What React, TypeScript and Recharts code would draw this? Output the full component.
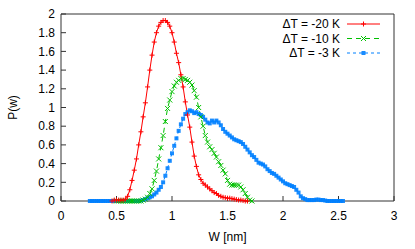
import React from "react";
import { LineChart, Line, XAxis, YAxis, Label } from "recharts";

// bin centres W [nm], shared by all three histograms
const W = [
  0.26, 0.28, 0.30, 0.32, 0.34, 0.36, 0.38, 0.40, 0.42, 0.44,
  0.46, 0.48, 0.50, 0.52, 0.54, 0.56, 0.58, 0.60, 0.62, 0.64,
  0.66, 0.68, 0.70, 0.72, 0.74, 0.76, 0.78, 0.80, 0.82, 0.84,
  0.86, 0.88, 0.90, 0.92, 0.94, 0.96, 0.98, 1.00, 1.02, 1.04,
  1.06, 1.08, 1.10, 1.12, 1.14, 1.16, 1.18, 1.20, 1.22, 1.24,
  1.26, 1.28, 1.30, 1.32, 1.34, 1.36, 1.38, 1.40, 1.42, 1.44,
  1.46, 1.48, 1.50, 1.52, 1.54, 1.56, 1.58, 1.60, 1.62, 1.64,
  1.66, 1.68, 1.70, 1.72, 1.74, 1.76, 1.78, 1.80, 1.82, 1.84,
  1.86, 1.88, 1.90, 1.92, 1.94, 1.96, 1.98, 2.00, 2.02, 2.04,
  2.06, 2.08, 2.10, 2.12, 2.14, 2.16, 2.18, 2.20, 2.22, 2.24,
  2.26, 2.28, 2.30, 2.32, 2.34, 2.36, 2.38, 2.40, 2.42, 2.44,
  2.46, 2.48, 2.50, 2.52, 2.54,
];

// ΔT = -20 K, from W = 0.46
const RED_FROM = 10;
const RED_P = [
  0.00, 0.01, 0.01, 0.01, 0.01, 0.01, 0.02, 0.05, 0.12, 0.22,
  0.33, 0.45, 0.60, 0.74, 0.90, 1.05, 1.22, 1.40, 1.56, 1.70,
  1.80, 1.87, 1.91, 1.93, 1.93, 1.91, 1.87, 1.80, 1.70, 1.58,
  1.48, 1.35, 1.22, 1.06, 0.92, 0.79, 0.63, 0.48, 0.37, 0.28,
  0.23, 0.19, 0.17, 0.15, 0.13, 0.11, 0.09, 0.08, 0.06, 0.05,
  0.04, 0.035, 0.03, 0.03, 0.025, 0.02, 0.015, 0.01, 0.01, 0.005,
  0.00, 0.00,
];

// ΔT = -10 K, from W = 0.50
const GREEN_FROM = 12;
const GREEN_P = [
  0.00, 0.00, 0.00, 0.00, 0.00, 0.00, 0.00, 0.00, 0.00, 0.00,
  0.00, 0.00, 0.01, 0.02, 0.04, 0.08, 0.13, 0.22, 0.32, 0.45,
  0.57, 0.70, 0.85, 0.99, 1.08, 1.17, 1.23, 1.27, 1.29, 1.31,
  1.31, 1.30, 1.29, 1.27, 1.24, 1.18, 1.11, 1.00, 0.90, 0.80,
  0.70, 0.63, 0.58, 0.55, 0.51, 0.47, 0.42, 0.38, 0.33, 0.29,
  0.22, 0.18, 0.17, 0.17, 0.17, 0.17, 0.15, 0.12, 0.08, 0.04,
  0.01, 0.00,
];

// ΔT = -3 K, from W = 0.26
const BLUE_FROM = 0;
const BLUE_P = [
  0.00, 0.00, 0.00, 0.00, 0.00, 0.00, 0.00, 0.00, 0.00, 0.00,
  0.00, 0.00, 0.00, 0.00, 0.00, 0.00, 0.00, 0.00, 0.00, 0.00,
  0.00, 0.00, 0.00, 0.005, 0.01, 0.02, 0.03, 0.04, 0.05, 0.07,
  0.09, 0.12, 0.15, 0.20, 0.27, 0.35, 0.43, 0.51, 0.59, 0.67,
  0.75, 0.82, 0.88, 0.93, 0.95, 0.97, 0.96, 0.94, 0.95, 0.93,
  0.92, 0.90, 0.87, 0.84, 0.83, 0.86, 0.84, 0.86, 0.84, 0.81,
  0.77, 0.74, 0.72, 0.70, 0.68, 0.66, 0.65, 0.64, 0.63, 0.61,
  0.58, 0.55, 0.52, 0.49, 0.47, 0.44, 0.41, 0.40, 0.39, 0.37,
  0.34, 0.32, 0.30, 0.29, 0.27, 0.25, 0.23, 0.21, 0.19, 0.18,
  0.17, 0.16, 0.15, 0.12, 0.09, 0.05, 0.03, 0.02, 0.01, 0.01,
  0.01, 0.01, 0.015, 0.015, 0.01, 0.01, 0.005, 0.00, 0.00, 0.00,
  0.00, 0.00, 0.00, 0.00, 0.00,
];

const X_TICKS = [0, 0.5, 1, 1.5, 2, 2.5, 3];
const Y_TICKS = [0, 0.2, 0.4, 0.6, 0.8, 1, 1.2, 1.4, 1.6, 1.8, 2];

const LEGEND = [
  { label: "ΔT = -20 K", color: "#ff0000", dash: undefined, mark: "plus" },
  { label: "ΔT = -10 K", color: "#00c000", dash: "5 4", mark: "cross" },
  { label: "ΔT = -3 K", color: "#0080ff", dash: "3 3", mark: "square" },
];

const FONT = "'Liberation Sans', Arial, Helvetica, sans-serif";
const AXIS = "#333";

const toRows = (from: number, ps: number[]) => ps.map((p, i) => ({ w: W[from + i], p }));

const redData = toRows(RED_FROM, RED_P);
const greenData = toRows(GREEN_FROM, GREEN_P);
const blueData = toRows(BLUE_FROM, BLUE_P);

function Mark({ kind, x, y, color }: { kind: string; x: number; y: number; color: string }) {
  const a = 2.5;
  if (kind === "plus")
    return (
      <path d={`M${x - a},${y}H${x + a}M${x},${y - a}V${y + a}`} stroke={color} strokeWidth={1} fill="none" />
    );
  if (kind === "cross")
    return (
      <path
        d={`M${x - a},${y - a}L${x + a},${y + a}M${x - a},${y + a}L${x + a},${y - a}`}
        stroke={color}
        strokeWidth={1}
        fill="none"
      />
    );
  return <rect x={x - 2} y={y - 2} width={4} height={4} fill={color} fillOpacity={0.9} />;
}

const dotFor = (kind: string, color: string, tag: string) => (props: any) => {
  const { cx, cy, index } = props;
  if (cx == null || cy == null) return <g key={`${tag}${index}`} />;
  return (
    <g key={`${tag}${index}`}>
      <Mark kind={kind} x={cx} y={cy} color={color} />
    </g>
  );
};

const tickStyle = { fontSize: 12, fill: "#000", fontFamily: FONT };

export default function App() {
  return (
    <div style={{ position: "absolute", left: 0, top: 0, width: 415, height: 249, background: "#fff" }}>
      <LineChart width={415} height={249} margin={{ top: 13, right: 20, bottom: 8, left: 11 }}>
        <XAxis
          dataKey="w"
          type="number"
          domain={[0, 3]}
          ticks={X_TICKS}
          interval={0}
          height={40}
          tickSize={-5}
          tickMargin={15.5}
          stroke={AXIS}
          tick={tickStyle}
          allowDuplicatedCategory={false}
        >
          <Label
            content={(p: any) => {
              const vb = p.viewBox;
              return (
                <text x={vb.x + vb.width / 2} y={241} textAnchor="middle" fontSize={12} fontFamily={FONT} fill="#000">
                  W [nm]
                </text>
              );
            }}
          />
        </XAxis>
        <XAxis
          xAxisId="top"
          orientation="top"
          dataKey="w"
          type="number"
          domain={[0, 3]}
          ticks={X_TICKS}
          interval={0}
          height={1}
          tickSize={-5}
          stroke={AXIS}
          tickFormatter={() => ""}
        />
        <YAxis
          type="number"
          domain={[0, 2]}
          ticks={Y_TICKS}
          interval={0}
          width={50}
          tickSize={-5}
          tickMargin={11}
          stroke={AXIS}
          tick={tickStyle}
        >
          <Label
            content={(p: any) => {
              const vb = p.viewBox;
              const cy = vb.y + vb.height / 2;
              return (
                <text
                  x={16.5}
                  y={cy}
                  transform={`rotate(-90 16.5 ${cy})`}
                  textAnchor="middle"
                  fontSize={12}
                  fontFamily={FONT}
                  fill="#000"
                >
                  P(w)
                </text>
              );
            }}
          />
        </YAxis>
        <YAxis
          yAxisId="right"
          orientation="right"
          type="number"
          domain={[0, 2]}
          ticks={Y_TICKS}
          interval={0}
          width={1}
          tickSize={-5}
          stroke={AXIS}
          tickFormatter={() => ""}
        />
        <Line
          data={blueData}
          dataKey="p"
          type="linear"
          stroke="#0080ff"
          strokeWidth={1}
          strokeDasharray="3 3"
          dot={dotFor("square", "#0080ff", "b")}
          activeDot={false}
          isAnimationActive={false}
        />
        <Line
          data={greenData}
          dataKey="p"
          type="linear"
          stroke="#00c000"
          strokeWidth={1}
          strokeDasharray="5 4"
          dot={dotFor("cross", "#00c000", "g")}
          activeDot={false}
          isAnimationActive={false}
        />
        <Line
          data={redData}
          dataKey="p"
          type="linear"
          stroke="#ff0000"
          strokeWidth={1}
          dot={dotFor("plus", "#ff0000", "r")}
          activeDot={false}
          isAnimationActive={false}
        />
      </LineChart>
      {/* key, top right inside the frame */}
      <svg width={415} height={249} style={{ position: "absolute", left: 0, top: 0, pointerEvents: "none" }}>
        {LEGEND.map((it, i) => {
          const y = 24 + i * 14.5;
          return (
            <g key={it.label}>
              <text x={340} y={y + 4.3} textAnchor="end" fontSize={12} fontFamily={FONT} fill="#000">
                {it.label}
              </text>
              <line x1={347} x2={380} y1={y} y2={y} stroke={it.color} strokeWidth={1} strokeDasharray={it.dash} />
              <Mark kind={it.mark} x={363.5} y={y} color={it.color} />
            </g>
          );
        })}
      </svg>
    </div>
  );
}
